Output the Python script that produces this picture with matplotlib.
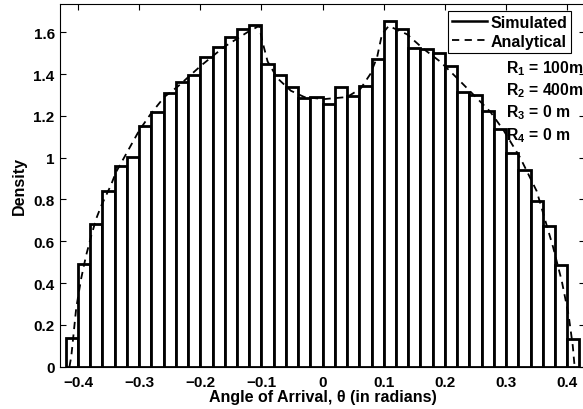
import numpy as np
import matplotlib
matplotlib.use('Agg')
import matplotlib.pyplot as plt
from matplotlib.lines import Line2D

plt.rcParams['font.family'] = ['Liberation Sans', 'DejaVu Sans']
plt.rcParams['font.weight'] = 'bold'
plt.rcParams['mathtext.fontset'] = 'custom'
plt.rcParams['mathtext.rm'] = 'Liberation Sans:bold'
plt.rcParams['mathtext.bf'] = 'Liberation Sans:bold'
plt.rcParams['mathtext.it'] = 'Liberation Sans:italic'

# histogram of simulated angles (bin width 0.02 rad)
bin_edges = np.linspace(-0.42, 0.42, 43)
sim_density = [0.136, 0.489, 0.685, 0.842, 0.962, 1.005, 1.152, 1.217, 1.310, 1.360,
               1.395, 1.481, 1.528, 1.579, 1.617, 1.635, 1.449, 1.393, 1.336, 1.285,
               1.289,
               1.256, 1.336, 1.293, 1.341, 1.472, 1.655, 1.617, 1.524, 1.520, 1.501,
               1.437, 1.312, 1.300, 1.225, 1.136, 1.021, 0.941, 0.792, 0.674, 0.485,
               0.133]

# analytical pdf
theta_an = [-0.414, -0.411, -0.403, -0.395, -0.387, -0.378, -0.370, -0.362, -0.346,
            -0.338, -0.319, -0.300, -0.281, -0.259, -0.237, -0.199, -0.161, -0.123,
            -0.104, -0.098, -0.090, -0.074, -0.052, -0.030, 0.002, 0.040, 0.062,
            0.078, 0.089, 0.097, 0.108, 0.138, 0.165, 0.192, 0.220, 0.247, 0.274,
            0.296, 0.323, 0.350, 0.361, 0.377, 0.391, 0.402, 0.409, 0.412]
dens_an = [0.0, 0.05, 0.28, 0.42, 0.53, 0.63, 0.71, 0.77, 0.87,
           0.93, 1.03, 1.13, 1.21, 1.29, 1.34, 1.44, 1.53, 1.60,
           1.63, 1.55, 1.46, 1.38, 1.32, 1.29, 1.28, 1.29, 1.33,
           1.40, 1.48, 1.59, 1.63, 1.59, 1.52, 1.46, 1.38, 1.30, 1.22,
           1.13, 1.00, 0.84, 0.73, 0.57, 0.41, 0.25, 0.10, 0.0]

params = ['$\\mathbf{R_1}$ = 100m', '$\\mathbf{R_2}$ = 400m',
          '$\\mathbf{R_3}$ = 0 m', '$\\mathbf{R_4}$ = 0 m']

xticks = [-0.4, -0.3, -0.2, -0.1, 0, 0.1, 0.2, 0.3, 0.4]
xlabels = ['\u22120.4', '\u22120.3', '\u22120.2', '\u22120.1', '0', '0.1', '0.2', '0.3', '0.4']
yticks = [0, 0.2, 0.4, 0.6, 0.8, 1.0, 1.2, 1.4, 1.6]
ylabels = ['0', '0.2', '0.4', '0.6', '0.8', '1', '1.2', '1.4', '1.6']

W, H = 583, 410
fig = plt.figure(figsize=(W / 100, H / 100), dpi=100)
ax = fig.add_axes([60.3 / W, (H - 367.7) / H, (585 - 60.3) / W, 362.7 / H])

ax.bar(bin_edges[:-1], sim_density, width=0.02, align='edge', facecolor='white',
       edgecolor='black', linewidth=2.0, label='Simulated')
ax.plot(theta_an, dens_an, color='black', linestyle=(0, (4, 3)), linewidth=1.3,
        label='Analytical')

ax.set_xlim(-0.429, 0.429)
ax.set_ylim(0, 1.735)
ax.set_xticks(xticks)
ax.set_xticklabels(xlabels)
ax.set_yticks(yticks)
ax.set_yticklabels(ylabels)
ax.tick_params(direction='in', length=4, width=0.8, top=True, right=True,
               labelsize=11)
ax.tick_params(axis='x', pad=6)
ax.tick_params(axis='y', pad=4)
for sp in ax.spines.values():
    sp.set_linewidth(0.8)

ax.set_xlabel('Angle of Arrival, \u03b8 (in radians)', fontsize=11.5, fontweight='bold',
              labelpad=0)
ax.set_ylabel('Density', fontsize=11.5, fontweight='bold', labelpad=5)

# legend uses a line for the simulated entry
handles = [Line2D([], [], color='black', linewidth=1.8),
           Line2D([], [], color='black', linestyle=(0, (4, 3)), linewidth=1.3)]
leg = ax.legend(handles, ['Simulated', 'Analytical'], loc='upper right',
                bbox_to_anchor=(571 / W, 1 - 11.7 / H), bbox_transform=fig.transFigure,
                borderaxespad=0, fancybox=False, framealpha=1, edgecolor='black',
                prop={'size': 11.5, 'weight': 'bold'}, handlelength=2.2,
                handletextpad=0.2, borderpad=0.25, labelspacing=0.25)
leg.get_frame().set_linewidth(0.8)

for i, s in enumerate(params):
    fig.text(505.5 / W, 1 - (73.3 + 22.2 * i) / H, s, fontsize=11.3, fontweight='bold',
             va='baseline', ha='left')

fig.savefig('out.png', dpi=100)
